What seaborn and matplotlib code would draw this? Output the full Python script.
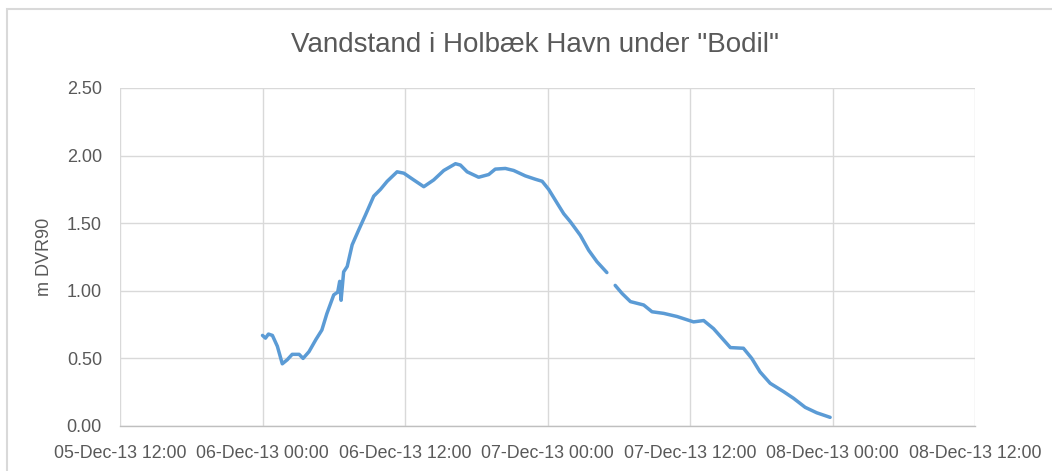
import pandas as pd
import matplotlib
matplotlib.use("Agg")
import matplotlib.pyplot as plt
import matplotlib.dates as mdates
import seaborn as sns

# === Data (water level, m DVR90) ===
seg1_time = [
    "2013-12-06 00:00", "2013-12-06 00:15", "2013-12-06 00:30", "2013-12-06 00:50",
    "2013-12-06 01:15", "2013-12-06 01:40", "2013-12-06 02:05", "2013-12-06 02:30",
    "2013-12-06 03:05", "2013-12-06 03:25", "2013-12-06 03:55", "2013-12-06 04:30",
    "2013-12-06 05:00", "2013-12-06 05:25", "2013-12-06 06:00", "2013-12-06 06:20",
    "2013-12-06 06:30", "2013-12-06 06:37", "2013-12-06 06:50", "2013-12-06 07:08",
    "2013-12-06 07:33", "2013-12-06 08:06", "2013-12-06 08:40", "2013-12-06 09:22",
    "2013-12-06 09:56", "2013-12-06 10:30", "2013-12-06 11:20", "2013-12-06 11:54",
    "2013-12-06 12:44", "2013-12-06 13:35", "2013-12-06 14:25", "2013-12-06 15:16",
    "2013-12-06 16:15", "2013-12-06 16:40", "2013-12-06 17:14", "2013-12-06 18:12",
    "2013-12-06 19:03", "2013-12-06 19:36", "2013-12-06 20:27", "2013-12-06 21:09",
    "2013-12-06 22:08", "2013-12-06 22:59", "2013-12-06 23:33", "2013-12-07 00:06",
    "2013-12-07 00:48", "2013-12-07 01:22", "2013-12-07 01:56", "2013-12-07 02:46",
    "2013-12-07 03:28", "2013-12-07 04:10", "2013-12-07 05:00",
]
seg1_level = [
    0.67, 0.65, 0.68, 0.67, 0.59, 0.46, 0.49, 0.53,
    0.53, 0.50, 0.55, 0.64, 0.71, 0.83, 0.97, 0.99,
    1.07, 0.93, 1.14, 1.18, 1.34, 1.45, 1.56, 1.70,
    1.75, 1.81, 1.88, 1.87, 1.82, 1.77, 1.82, 1.89,
    1.94, 1.93, 1.88, 1.84, 1.86, 1.90, 1.905, 1.89,
    1.85, 1.825, 1.81, 1.75, 1.65, 1.57, 1.51, 1.41,
    1.30, 1.215, 1.135,
]
seg2_time = [
    "2013-12-07 05:42", "2013-12-07 06:17", "2013-12-07 06:59", "2013-12-07 08:06",
    "2013-12-07 08:48", "2013-12-07 09:47", "2013-12-07 10:54", "2013-12-07 12:18",
    "2013-12-07 13:09", "2013-12-07 13:59", "2013-12-07 14:50", "2013-12-07 15:24",
    "2013-12-07 16:30", "2013-12-07 17:12", "2013-12-07 17:54", "2013-12-07 18:45",
    "2013-12-07 19:53", "2013-12-07 20:43", "2013-12-07 21:42", "2013-12-07 22:40",
    "2013-12-07 23:48",
]
seg2_level = [
    1.04, 0.98, 0.92, 0.895, 0.845, 0.833, 0.81, 0.77,
    0.78, 0.72, 0.636, 0.58, 0.575, 0.50, 0.40, 0.316,
    0.254, 0.205, 0.138, 0.098, 0.064,
]
x_ticks = pd.date_range("2013-12-05 12:00", "2013-12-08 12:00", freq="12h")
y_ticks = [0.0, 0.5, 1.0, 1.5, 2.0, 2.5]

df = pd.concat([
    pd.DataFrame({"time": pd.to_datetime(seg1_time), "level": seg1_level, "seg": 1}),
    pd.DataFrame({"time": pd.to_datetime(seg2_time), "level": seg2_level, "seg": 2}),
])

# === Style ===
sns.set_theme(style="white")
plt.rcParams["font.family"] = ["Liberation Sans", "DejaVu Sans"]
txt = "#595959"
grid = "#d9d9d9"

fig = plt.figure(figsize=(10.52, 4.71), dpi=100)
ax = fig.add_axes([120 / 1052, 1 - 426 / 471, 855 / 1052, 338 / 471])

sns.lineplot(data=df, x="time", y="level", units="seg", estimator=None,
             color="#5b9bd5", linewidth=2.5, ax=ax)

ax.set_xlim(x_ticks[0], x_ticks[-1])
ax.set_ylim(0, 2.5)
ax.set_xticks(x_ticks)
ax.xaxis.set_major_formatter(mdates.DateFormatter("%d-%b-%y %H:%M"))
ax.set_yticks(y_ticks)
ax.set_yticklabels([f"{v:.2f}" for v in y_ticks])
ax.tick_params(axis="both", length=0, colors=txt)
ax.tick_params(axis="x", labelsize=12.8, pad=14)
ax.tick_params(axis="y", labelsize=13, pad=13)
ax.grid(True, color=grid, linewidth=1)
ax.set_axisbelow(True)
for side in ["top", "right", "left"]:
    ax.spines[side].set_visible(False)
ax.spines["bottom"].set_color("#bfbfbf")
ax.spines["bottom"].set_linewidth(1)
ax.set_xlabel("")
ax.set_ylabel("m DVR90", fontsize=13, color=txt, labelpad=10)

fig.text(535 / 1052, 1 - 45 / 471, 'Vandstand i Holbæk Havn under "Bodil"',
         ha="center", va="center", fontsize=20, color=txt)

# chart frame
fig.patches.append(plt.Rectangle((7 / 1052, -0.05), 1.1, 1 - 9 / 471 + 0.05,
                                 transform=fig.transFigure, fill=False,
                                 edgecolor=grid, linewidth=1.5))

fig.savefig("out.png", dpi=100)
